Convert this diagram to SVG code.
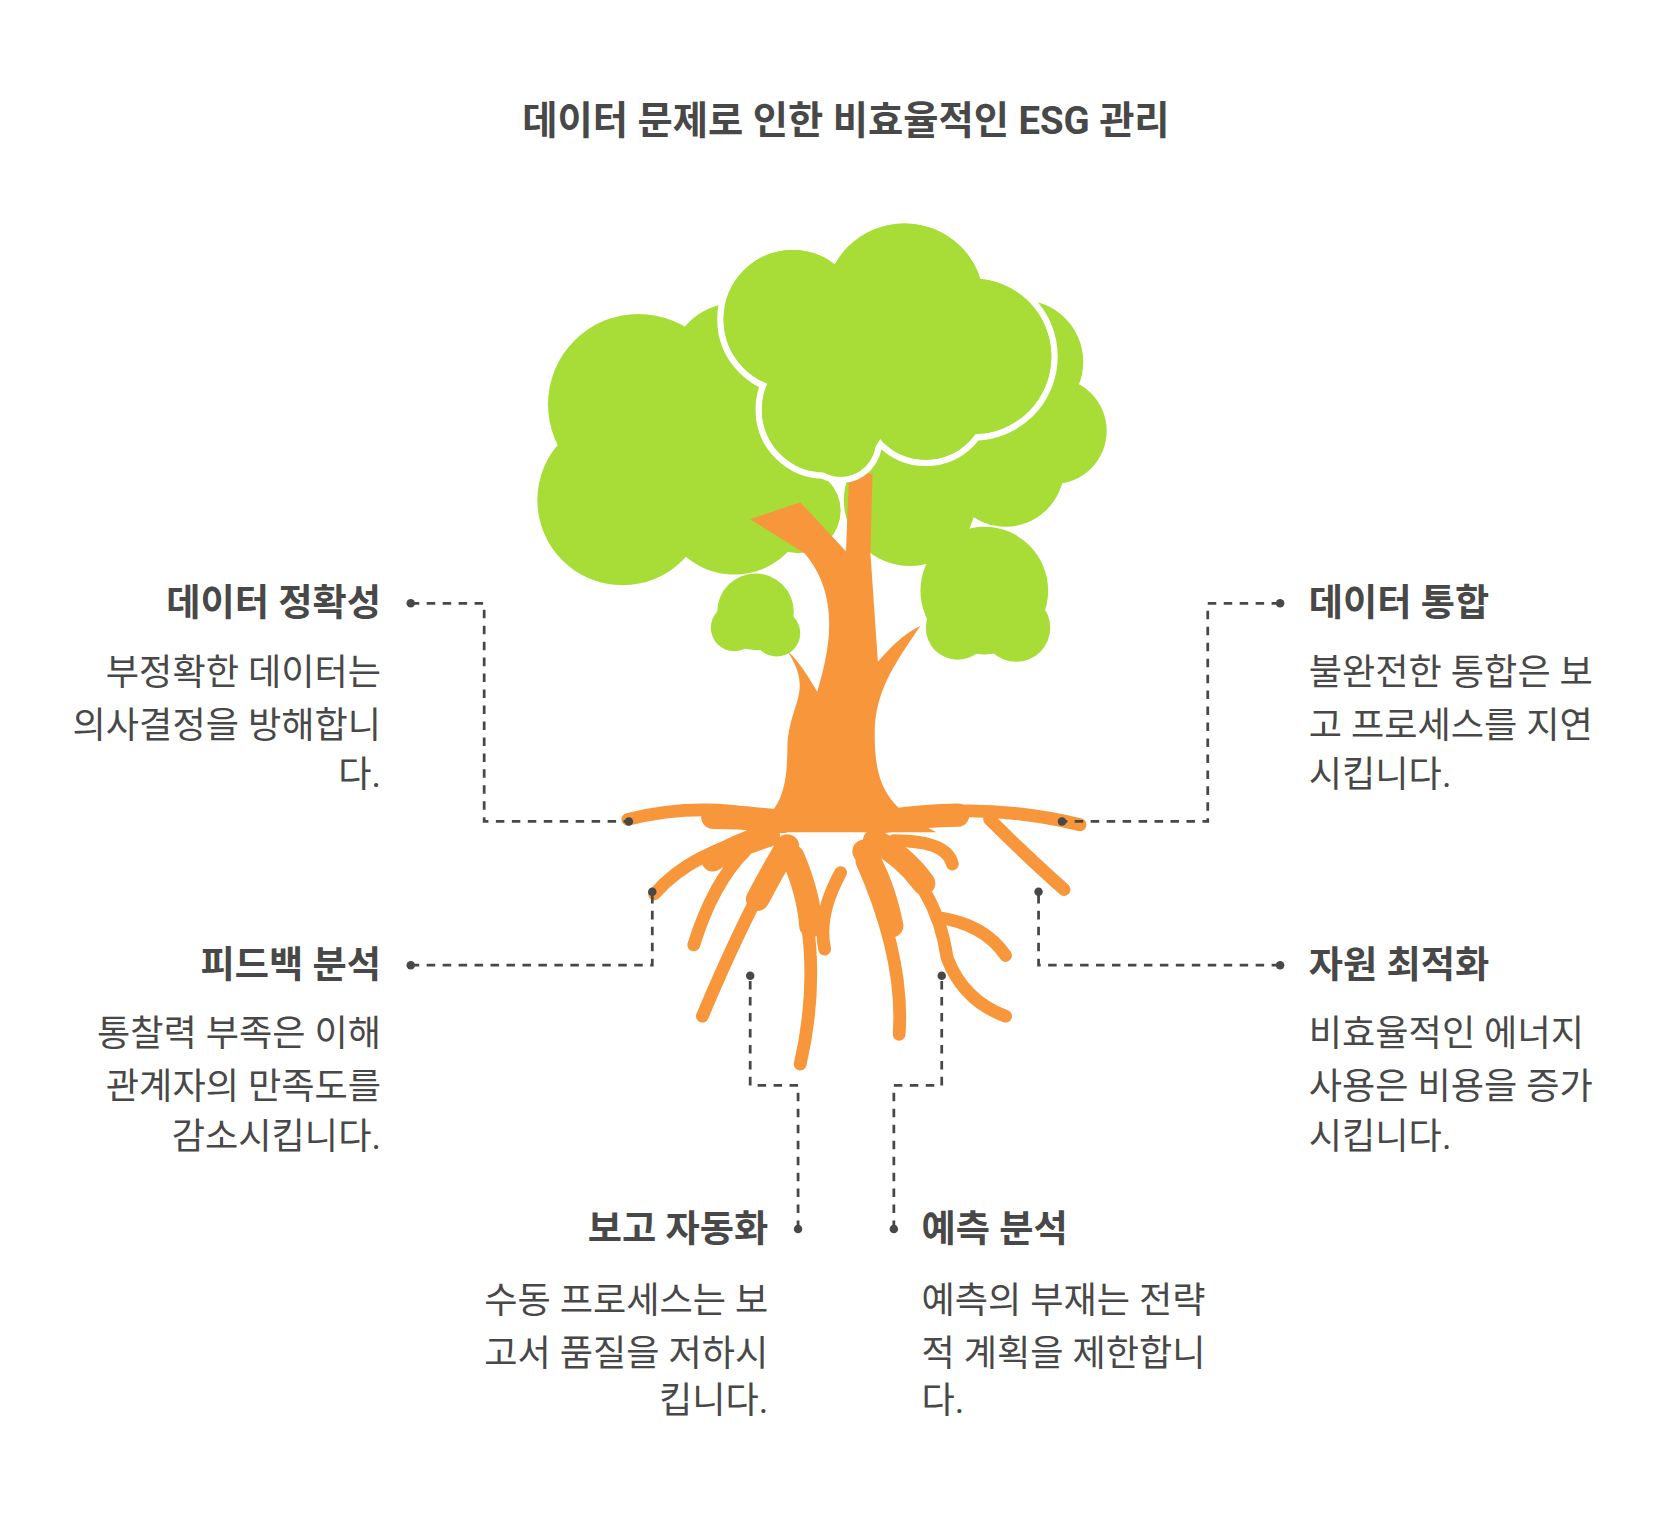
<svg xmlns="http://www.w3.org/2000/svg" width="1660" height="1516" viewBox="0 0 1660 1516">
<style>
.t{font-family:"Roboto","Noto Sans CJK KR",sans-serif;fill:#484848}
.h{font-size:35px;font-weight:700}
.b{font-size:34px}
.c{fill:none;stroke:#484848;stroke-width:2.6;stroke-dasharray:8 7}
.d{fill:#484848}
.g{fill:#A8DD38}
.r{fill:none;stroke:#F7963A;stroke-linecap:round}
</style>
<rect width="1660" height="1516" fill="#fff"/>
<g transform="scale(1.0641)">
<text class="t" font-size="36" font-weight="700" x="795" y="126" text-anchor="middle">데이터 문제로 인한 비효율적인 ESG 관리</text>
<g id="tree">
<g class="g">
<circle cx="600" cy="380" r="85"/><circle cx="585" cy="470" r="80"/><circle cx="650" cy="400" r="85"/><circle cx="690" cy="345" r="60"/>
<circle cx="690" cy="470" r="70"/><circle cx="855" cy="470" r="62"/><circle cx="960" cy="340" r="58"/><circle cx="990" cy="405" r="50"/><circle cx="945" cy="440" r="55"/><circle cx="750" cy="480" r="40"/>
<circle cx="710" cy="575" r="36"/><circle cx="690" cy="590" r="22"/><circle cx="730" cy="595" r="22"/>
<circle cx="925" cy="555" r="60"/><circle cx="900" cy="590" r="30"/><circle cx="955" cy="590" r="32"/>
</g>
<path class="r" stroke-width="12" d="M735,770 Q660,752 590,770 M830,770 Q920,752 1015,775 M720,785 Q650,800 615,840 M700,800 Q670,830 652,888 M735,800 Q700,860 660,955 M745,810 Q775,900 752,1000 M790,820 Q768,860 775,892 M810,810 Q850,900 845,972 M825,790 Q880,830 890,900 Q905,940 945,955 M840,790 Q890,790 895,812 M930,770 Q960,800 1000,836 M880,862 Q925,868 945,898"/>
<path class="r" stroke-width="22" d="M735,772 Q700,768 670,768 M830,772 Q870,766 900,766 M722,785 Q690,795 670,808 M740,795 Q725,820 712,845 M745,805 Q760,840 762,870 M812,800 Q830,830 838,870 M822,790 Q850,805 868,830"/>
<path fill="#F7963A" d="M705,488 L752,472 L795,518 L798,445 L820,445 L818,520 L825,622 C835,610 850,595 865,588 C840,625 822,650 822,690 C822,740 835,760 880,782 L700,782 C735,765 740,740 740,700 C742,660 765,650 740,612 C752,622 762,640 768,650 C780,610 790,560 756,520 Z"/>
<g stroke="#fff" stroke-width="6" fill="#A8DD38">
<circle cx="745" cy="300" r="68"/><circle cx="850" cy="285" r="78"/><circle cx="915" cy="335" r="76"/><circle cx="775" cy="385" r="62"/><circle cx="870" cy="375" r="60"/><circle cx="790" cy="415" r="36"/>
</g>
<g class="g">
<circle cx="745" cy="300" r="65"/><circle cx="850" cy="285" r="75"/><circle cx="915" cy="335" r="73"/><circle cx="775" cy="385" r="59"/><circle cx="870" cy="375" r="57"/><circle cx="790" cy="415" r="33"/>
</g>
</g>
<g id="connectors">
<path class="c" d="M386,567 H455 V772 H591"/>
<path class="c" d="M1203,567 H1135 V772 H998"/>
<path class="c" d="M386,907 H613 V838"/>
<path class="c" d="M1203,907 H976 V838"/>
<path class="c" d="M750,1155 V1020 H705 V917"/>
<path class="c" d="M840,1155 V1020 H885 V917"/>
<g class="d">
<circle cx="386" cy="567" r="4"/><circle cx="591" cy="772" r="4"/><circle cx="1203" cy="567" r="4"/><circle cx="998" cy="772" r="4"/>
<circle cx="386" cy="907" r="4"/><circle cx="613" cy="838" r="4"/><circle cx="1203" cy="907" r="4"/><circle cx="976" cy="838" r="4"/>
<circle cx="750" cy="1155" r="4"/><circle cx="705" cy="917" r="4"/><circle cx="840" cy="1155" r="4"/><circle cx="885" cy="917" r="4"/>
</g>
</g>
<g id="n1" class="t" text-anchor="end"><text class="h" x="358" y="579">데이터 정확성</text><text class="b" x="358" y="644">부정확한 데이터는</text><text class="b" x="358" y="694">의사결정을 방해합니</text><text class="b" x="358" y="740">다.</text></g>
<g id="n2" class="t"><text class="h" x="1230" y="579">데이터 통합</text><text class="b" x="1230" y="644">불완전한 통합은 보</text><text class="b" x="1230" y="694">고 프로세스를 지연</text><text class="b" x="1230" y="740">시킵니다.</text></g>
<g id="n3" class="t" text-anchor="end"><text class="h" x="358" y="919">피드백 분석</text><text class="b" x="358" y="983">통찰력 부족은 이해</text><text class="b" x="358" y="1033">관계자의 만족도를</text><text class="b" x="358" y="1080">감소시킵니다.</text></g>
<g id="n4" class="t"><text class="h" x="1230" y="919">자원 최적화</text><text class="b" x="1230" y="983">비효율적인 에너지</text><text class="b" x="1230" y="1033">사용은 비용을 증가</text><text class="b" x="1230" y="1080">시킵니다.</text></g>
<g id="n5" class="t" text-anchor="end"><text class="h" x="722" y="1167">보고 자동화</text><text class="b" x="722" y="1234">수동 프로세스는 보</text><text class="b" x="722" y="1284">고서 품질을 저하시</text><text class="b" x="722" y="1328">킵니다.</text></g>
<g id="n6" class="t"><text class="h" x="866" y="1167">예측 분석</text><text class="b" x="866" y="1234">예측의 부재는 전략</text><text class="b" x="866" y="1284">적 계획을 제한합니</text><text class="b" x="866" y="1328">다.</text></g>
</g>
</svg>
